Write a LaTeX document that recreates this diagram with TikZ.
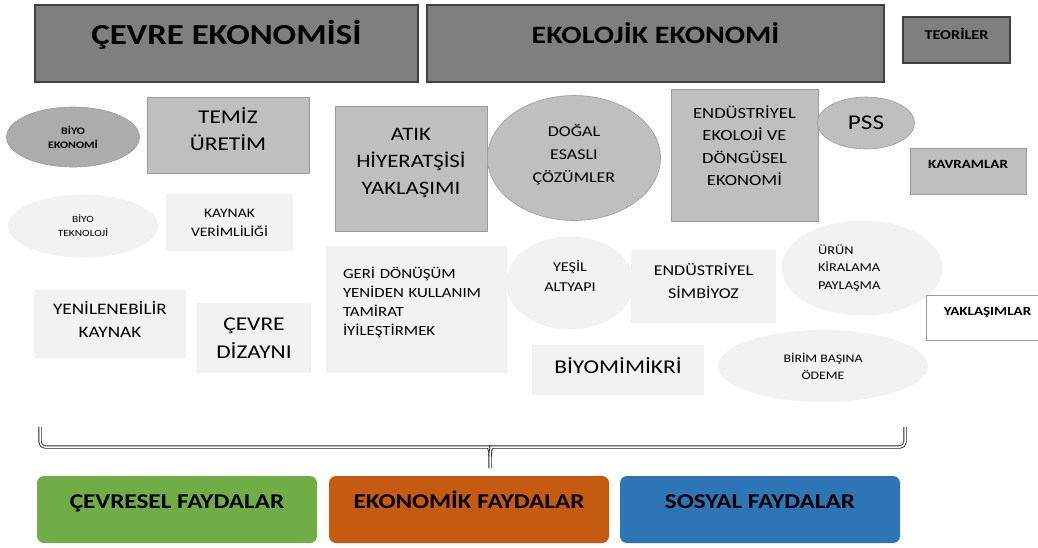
\documentclass[tikz,border=0pt]{standalone}
\usepackage{fontspec}
\setmainfont[FakeStretch=1.2]{Carlito}
\usepackage{xcolor}
\usepackage{tikz}
\usetikzlibrary{shapes.geometric}

\definecolor{hdrgray}{RGB}{127,127,127}
\definecolor{hdrline}{RGB}{64,64,64}
\definecolor{midgray}{RGB}{191,191,191}
\definecolor{darkoval}{RGB}{172,172,172}
\definecolor{edgegray}{RGB}{155,155,155}
\definecolor{lightgray}{RGB}{242,242,242}
\definecolor{envgreen}{RGB}{112,173,71}
\definecolor{ecoorange}{RGB}{197,90,17}
\definecolor{socblue}{RGB}{46,117,182}

\begin{document}
\begin{tikzpicture}[
	x=1pt, y=-1pt,
	thick
]
\tikzset{
    hdrbox/.style = {rectangle, draw=hdrline, line width=1.6pt, fill=hdrgray, align=center, inner sep=2pt},
    graybox/.style = {rectangle, draw=edgegray, line width=0.6pt, fill=midgray, align=center, inner sep=2pt},
    lightbox/.style = {rectangle, fill=lightgray, align=center, inner sep=2pt},
    grayoval/.style = {ellipse, draw=edgegray, line width=0.6pt, fill=midgray, align=center, inner sep=0pt},
    lightoval/.style = {ellipse, fill=lightgray, align=center, inner sep=0pt},
    benefit/.style = {rectangle, rounded corners=7pt, align=center, inner sep=2pt, minimum width=280, minimum height=67,
        font=\bfseries\fontsize{21}{25}\selectfont, text height=16pt, text depth=17.4pt},
    bracket/.style = {draw=black!85, line width=0.9pt, double=white, double distance=1.5pt, rounded corners=5pt}
}
\fill[white] (0,0) rectangle (1038,547);
\useasboundingbox (0,0) rectangle (1038,547);

% headers
\node[hdrbox, minimum width=383, minimum height=77, font=\bfseries\fontsize{29}{34}\selectfont,
      text height=21pt, text depth=19.5pt] (cevreeko) at (226.5,43.5) {ÇEVRE EKONOMİSİ};
\node[hdrbox, minimum width=457, minimum height=77, font=\bfseries\fontsize{25}{30}\selectfont,
      text height=19pt, text depth=19.7pt] (ekoloji) at (655.5,43.5) {EKOLOJİK EKONOMİ};
\node[hdrbox, line width=1.2pt, minimum width=107, minimum height=46, font=\bfseries\fontsize{13.5}{16}\selectfont,
      text height=10pt, text depth=11.3pt] (teori) at (956.5,40) {TEORİLER};

% left column
\node[grayoval, fill=darkoval, minimum width=133, minimum height=60, font=\bfseries\fontsize{10}{14}\selectfont]
      (biyoeko) at (73,137) {BİYO\\EKONOMİ};
\node[graybox, minimum width=162, minimum height=76, font=\fontsize{19.5}{27}\selectfont,
      text height=43pt, text depth=11.1pt] (temiz) at (228,135) {TEMİZ\\ÜRETİM};
\node[lightoval, minimum width=150, minimum height=63, font=\fontsize{9.5}{14}\selectfont]
      (biyotek) at (83,226) {BİYO\\TEKNOLOJİ};
\node[lightbox, minimum width=127, minimum height=57, font=\fontsize{13}{19}\selectfont]
      (kaynak) at (229.5,222.5) {KAYNAK\\VERİMLİLİĞİ};
\node[lightbox, minimum width=152, minimum height=68, font=\fontsize{16}{23}\selectfont,
      text height=36pt, text depth=8.4pt] (yenilen) at (110,324) {YENİLENEBİLİR\\KAYNAK};
\node[lightbox, minimum width=114, minimum height=70, font=\fontsize{19.5}{28}\selectfont]
      (dizayn) at (254,338) {ÇEVRE\\DİZAYNI};

% middle
\node[graybox, minimum width=152, minimum height=125, font=\fontsize{19}{27}\selectfont,
      text height=70pt, text depth=17.5pt] (atik) at (411,168.5) {ATIK\\HİYERATŞİSİ\\YAKLAŞIMI};
\node[grayoval, minimum width=173, minimum height=125, font=\fontsize{15}{23}\selectfont,
      text height=58pt, text depth=10pt] (dogal) at (574,158) {DOĞAL\\ESASLI\\ÇÖZÜMLER};
\node[graybox, minimum width=147, minimum height=132, font=\fontsize{15.5}{22.5}\selectfont,
      text height=79.5pt, text depth=17.8pt] (endeko) at (744.5,155) {ENDÜSTRİYEL\\EKOLOJİ VE\\DÖNGÜSEL\\EKONOMİ};
\node[grayoval, minimum width=97, minimum height=52, font=\fontsize{21}{25}\selectfont]
      (pss) at (866,123) {PSS};
\node[graybox, minimum width=116, minimum height=46, font=\bfseries\fontsize{12.5}{15}\selectfont,
      text height=10pt, text depth=16pt] (kavram) at (968,171) {KAVRAMLAR};

\node[lightbox, minimum width=181, minimum height=127, text width=147, align=left, font=\fontsize{14}{19}\selectfont,
      text height=11pt, text depth=72.8pt] (geri) at (416.5,309.5) {GERİ DÖNÜŞÜM\\YENİDEN KULLANIM\\TAMİRAT\\İYİLEŞTİRMEK};
\node[lightoval, minimum width=128, minimum height=93, font=\fontsize{13.5}{20}\selectfont,
      text height=31pt, text depth=14pt] (yesil) at (570,283) {YEŞİL\\ALTYAPI};
\node[lightbox, minimum width=145, minimum height=73, font=\fontsize{15}{23}\selectfont,
      text height=35pt, text depth=12pt] (simbiyoz) at (703.5,286.5) {ENDÜSTRİYEL\\SİMBİYOZ};
\node[lightbox, minimum width=172, minimum height=50, font=\fontsize{19.5}{24}\selectfont,
      text height=16pt, text depth=9.1pt] (biyomim) at (618,370) {BİYOMİMİKRİ};

% right side
\node[lightoval, minimum width=161, minimum height=95, text width=88, align=left, font=\fontsize{12}{17.5}\selectfont]
      (urun) at (862,268) {ÜRÜN\\KİRALAMA\\PAYLAŞMA};
\node[rectangle, draw=edgegray, line width=0.6pt, fill=white, minimum width=123, minimum height=45,
      font=\bfseries\fontsize{12.5}{15}\selectfont, text height=10pt, text depth=15pt] (yaklasim) at (987.5,317.5) {YAKLAŞIMLAR};
\node[lightoval, minimum width=210, minimum height=72, font=\fontsize{11.5}{17}\selectfont]
      (birim) at (823,366) {BİRİM BAŞINA\\ÖDEME};

% brace
\coordinate (bl) at (40,427);
\coordinate (br) at (905,427);
\coordinate (btip) at (490,468);
\draw[bracket] (bl) |- (484,447) to[out=0,in=90] (btip |- 0,456) -- (btip);
\draw[bracket] (br) |- (496,447) to[out=180,in=90] (btip |- 0,456);

% benefits
\node[benefit, fill=envgreen] (cevresel) at (177,509.5) {ÇEVRESEL FAYDALAR};
\node[benefit, fill=ecoorange] (ekonomik) at (469,509.5) {EKONOMİK FAYDALAR};
\node[benefit, fill=socblue] (sosyal) at (760,509.5) {SOSYAL FAYDALAR};
\end{tikzpicture}
\end{document}
